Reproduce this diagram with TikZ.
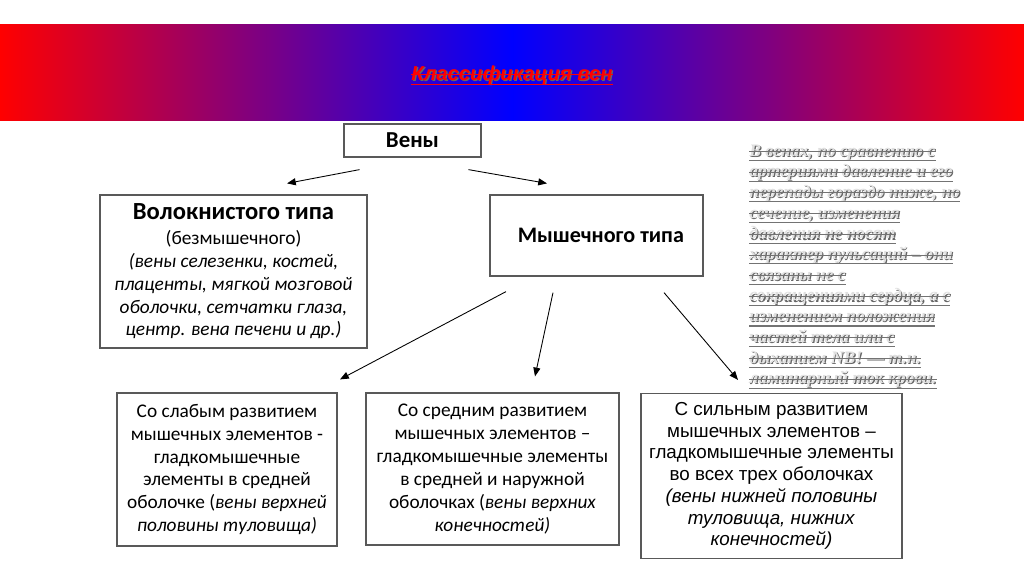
\documentclass[tikz,border=0pt]{standalone}
\usepackage{fontspec}
\setmainfont{Carlito}
\newfontfamily\arialfont{Liberation Sans}
\newfontfamily\serifnote{Liberation Serif}
\usetikzlibrary{arrows.meta}

\begin{document}
\begin{tikzpicture}[
  x=0.02cm,y=-0.02cm,
  box/.style={draw=black!65,line width=0.7pt,fill=white,align=center,inner sep=0pt,
    font=\fontsize{11}{13}\selectfont},
  arr/.style={-{Triangle[length=5pt,width=4pt]},line width=0.5pt},
  note/.style={anchor=base west,inner sep=0pt,font=\serifnote\bfseries\itshape\fontsize{10}{12}\selectfont},
  headline/.style={anchor=base,inner sep=0pt,font=\arialfont\bfseries\itshape\fontsize{11.5}{14}\selectfont}
]
  \useasboundingbox (0,0) rectangle (1024,576);

  % banner
  \shade[left color=red,right color=red,middle color=blue] (0,24) rectangle (1024,120);
  \node[headline,text=black!60] (titleshade) at (513.2,81.2) {Классификация вен};
  \node[headline,text=red] (title) at (512,80) {Классификация вен};
  \draw[red,line width=0.6pt] ([yshift=-2.5pt]title.base west) -- ([yshift=-2.5pt]title.base east);
  \draw[red,line width=0.6pt] ([yshift=3pt]title.base west) -- ([yshift=3pt]title.base east);

  % boxes
  \node[box,minimum width=2.74cm,minimum height=0.66cm,font=\fontsize{13}{15}\selectfont\bfseries] (veny) at (412.5,140.5) {Вены};
  \node[box,minimum width=5.34cm,minimum height=3.06cm] (volok) at (233.5,271.5)
    {{\fontsize{14}{14}\selectfont\bfseries Волокнистого типа}\\[1pt] (безмышечного)\\
     \textit{(вены селезенки, костей,}\\ \textit{плаценты, мягкой мозговой}\\
     \textit{оболочки, сетчатки глаза,}\\ \textit{центр. вена печени и др.)}};
  \node[box,minimum width=4.26cm,minimum height=1.62cm,font=\fontsize{12.6}{14}\selectfont\bfseries] (mysh) at (596.5,235.5) {\hspace{5pt}Мышечного типа};
  \node[box,minimum width=4.4cm,minimum height=3.06cm] (weak) at (227,469.5)
    {Со слабым развитием\\ мышечных элементов -\\ гладкомышечные\\ элементы в средней\\
     оболочке (\textit{вены верхней}\\ \textit{половины туловища)}};
  \node[box,minimum width=5.06cm,minimum height=3.04cm] (middle) at (492.5,469)
    {Со средним развитием\\ мышечных элементов –\\ гладкомышечные элементы\\
     в средней и наружной\\ оболочках (\textit{вены верхних}\\ \textit{конечностей)}};
  \node[box,minimum width=5.22cm,minimum height=3.3cm,font=\arialfont\fontsize{10.7}{12.4}\selectfont] (strong) at (771.5,476)
    {С сильным развитием\\ мышечных элементов –\\ гладкомышечные элементы\\
     во всех трех оболочках\\ \textit{(вены нижней половины}\\ \textit{туловища, нижних}\\ \textit{конечностей)}};

  % arrows
  \draw[arr] ([shift={(-53,12)}]veny.south) -- ([shift={(53.5,-11)}]volok.north);
  \draw[arr] ([shift={(56,12)}]veny.south) -- ([shift={(-49.5,-11)}]mysh.north);
  \draw[arr] ([shift={(-90.5,15)}]mysh.south) -- ([shift={(113,-13)}]weak.north);
  \draw[arr] ([shift={(-43.5,16)}]mysh.south) -- ([shift={(42.5,-16)}]middle.north);
  \draw[arr] ([shift={(67.5,16)}]mysh.south) -- ([shift={(-33.5,-13)}]strong.north);

  % side note
  \foreach \t [count=\i] in {{В венах, по сравнению с},{артериями давление и его},
      {перепады гораздо ниже, но},{сечение, изменения},{давления не носят},
      {характер пульсаций – они},{связаны не с},{сокращениями сердца, а с},
      {изменением положения},{частей тела или с},{дыханием NB! — т.н.},
      {ламинарный ток крови.}} {
    \pgfmathsetmacro{\yy}{156+(\i-1)*20.7}
    \node[note,text=black!60] (noteshade\i) at (750.2,\yy+1.2) {\t};
    \node[note,text=black!12] (note\i) at (749,\yy) {\t};
    \draw[black!55,line width=0.6pt] ([yshift=-2.5pt]note\i.base west) -- ([yshift=-2.5pt]note\i.base east);
    \draw[black!55,line width=0.5pt] ([yshift=2.6pt]note\i.base west) -- ([yshift=2.6pt]note\i.base east);
  }
\end{tikzpicture}
\end{document}
